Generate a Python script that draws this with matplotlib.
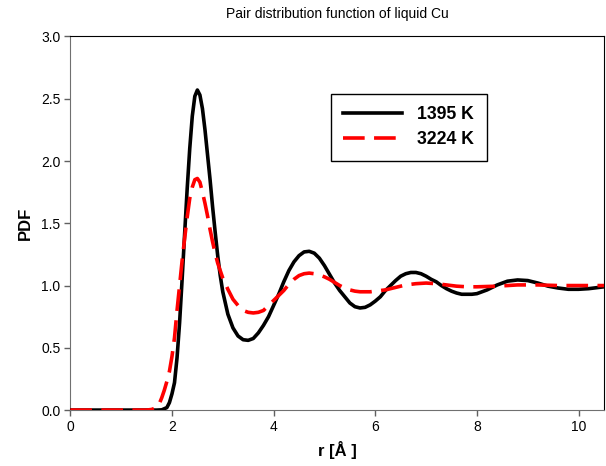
"""Pair distribution function of liquid Cu at two temperatures."""
import matplotlib
matplotlib.use('Agg')
import matplotlib.pyplot as plt

plt.rcParams['font.family'] = ['Liberation Sans', 'DejaVu Sans']

# 1395 K curve
r_1395 = [0.0, 1.0, 1.7, 1.8, 1.9, 1.95, 2.0, 2.05, 2.1, 2.15, 2.2, 2.25, 2.3,
          2.35, 2.4, 2.45, 2.5, 2.55, 2.6, 2.65, 2.7, 2.75, 2.8, 2.85, 2.9,
          2.95, 3.0, 3.1, 3.2, 3.3, 3.4, 3.5, 3.6, 3.7, 3.8, 3.9, 4.0, 4.1,
          4.2, 4.3, 4.4, 4.5, 4.6, 4.7, 4.8, 4.9, 5.0, 5.1, 5.2, 5.3, 5.4,
          5.5, 5.6, 5.7, 5.8, 5.9, 6.0, 6.1, 6.2, 6.3, 6.4, 6.5, 6.6, 6.7,
          6.8, 6.9, 7.0, 7.1, 7.2, 7.3, 7.4, 7.5, 7.6, 7.7, 7.8, 7.9, 8.0,
          8.2, 8.4, 8.6, 8.8, 9.0, 9.2, 9.4, 9.6, 9.8, 10.0, 10.2, 10.4, 10.5]
g_1395 = [0.0, 0.0, 0.0, 0.002, 0.02, 0.06, 0.13, 0.22, 0.42, 0.70, 1.05,
          1.42, 1.78, 2.10, 2.36, 2.52, 2.57, 2.53, 2.42, 2.25, 2.05, 1.85,
          1.63, 1.43, 1.24, 1.08, 0.95, 0.77, 0.66, 0.595, 0.565, 0.56,
          0.575, 0.62, 0.68, 0.75, 0.84, 0.93, 1.03, 1.12, 1.19, 1.24, 1.27,
          1.275, 1.26, 1.22, 1.16, 1.09, 1.02, 0.96, 0.91, 0.86, 0.83, 0.82,
          0.825, 0.845, 0.875, 0.91, 0.96, 1.00, 1.04, 1.075, 1.095, 1.105,
          1.105, 1.095, 1.075, 1.05, 1.03, 1.0, 0.975, 0.955, 0.94, 0.93,
          0.93, 0.93, 0.935, 0.965, 1.005, 1.035, 1.045, 1.04, 1.02, 0.995,
          0.98, 0.97, 0.97, 0.975, 0.985, 0.99]

# 3224 K curve
r_3224 = [0.0, 1.5, 1.6, 1.7, 1.75, 1.8, 1.85, 1.9, 1.95, 2.0, 2.05, 2.1,
          2.15, 2.2, 2.25, 2.3, 2.35, 2.4, 2.45, 2.5, 2.55, 2.6, 2.65, 2.7,
          2.75, 2.8, 2.85, 2.9, 2.95, 3.0, 3.1, 3.2, 3.3, 3.4, 3.5, 3.6, 3.7,
          3.8, 3.9, 4.0, 4.1, 4.2, 4.3, 4.4, 4.5, 4.6, 4.7, 4.8, 4.9, 5.0,
          5.1, 5.2, 5.3, 5.4, 5.5, 5.6, 5.7, 5.8, 5.9, 6.0, 6.2, 6.4, 6.6,
          6.8, 7.0, 7.2, 7.4, 7.6, 7.8, 8.0, 8.4, 8.8, 9.2, 9.6, 10.0, 10.5]
g_3224 = [0.0, 0.0, 0.005, 0.02, 0.05, 0.10, 0.16, 0.23, 0.31, 0.43, 0.58,
          0.80, 1.00, 1.20, 1.38, 1.55, 1.70, 1.79, 1.85, 1.86, 1.83, 1.75,
          1.66, 1.56, 1.45, 1.35, 1.26, 1.18, 1.12, 1.06, 0.97, 0.89, 0.84,
          0.80, 0.785, 0.78, 0.785, 0.80, 0.84, 0.88, 0.92, 0.96, 1.01, 1.05,
          1.08, 1.095, 1.10, 1.095, 1.085, 1.07, 1.05, 1.025, 1.0, 0.98,
          0.965, 0.955, 0.95, 0.95, 0.95, 0.955, 0.965, 0.985, 1.005, 1.015,
          1.02, 1.015, 1.005, 0.995, 0.99, 0.99, 0.995, 1.005, 1.005, 1.0,
          1.0, 1.0]

xticks = [0, 2, 4, 6, 8, 10]
yticks = [0.0, 0.5, 1.0, 1.5, 2.0, 2.5, 3.0]

fig = plt.figure(figsize=(6.06, 4.66), dpi=100)
ax = fig.add_axes([0.116, 0.120, 0.8807, 0.8017])

ax.plot(r_1395, g_1395, color='black', lw=2.6, label='1395 K', zorder=3)
ax.plot(r_3224, g_3224, color='red', lw=2.6, dashes=(6, 2.6),
        label='3224 K', zorder=4)

ax.set_xlim(0, 10.5)
ax.set_ylim(0, 3.0)
ax.set_xticks(xticks)
ax.set_yticks(yticks)
ax.set_yticklabels(['{:.1f}'.format(v) for v in yticks])
ax.tick_params(direction='out', length=4, width=1, color='#606060',
               labelsize=10, pad=3)
for side in ['left', 'bottom']:
    ax.spines[side].set_color('#707070')
for side in ['top', 'right']:
    ax.spines[side].set_color('black')

ax.set_xlabel('r [Å ]', fontsize=12, fontweight='bold', labelpad=5)
ax.set_ylabel('PDF', fontsize=12, fontweight='bold', labelpad=6)
ax.set_title('Pair distribution function of liquid Cu', fontsize=10, pad=13)

leg = ax.legend(loc='upper left', bbox_to_anchor=(0.4885, 0.846),
                borderaxespad=0, fancybox=False, framealpha=1,
                edgecolor='black', prop={'weight': 'bold', 'size': 12.7},
                handlelength=3.3, borderpad=0.7, labelspacing=0.45,
                handletextpad=0.9)
leg.get_frame().set_linewidth(1.0)

fig.savefig('out.png', dpi=100)
